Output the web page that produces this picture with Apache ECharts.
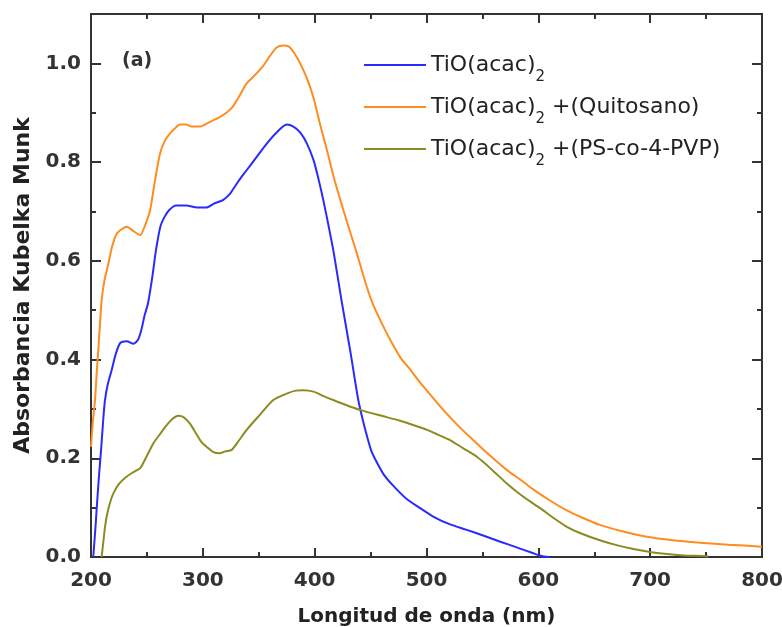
<!DOCTYPE html>
<html>
<head>
<meta charset="utf-8">
<script src="https://cdn.jsdelivr.net/npm/echarts@6/dist/echarts.min.js"></script>
<style>
html,body{margin:0;padding:0;background:#fff;}
#chart{width:782px;height:627px;}
</style>
</head>
<body>
<div id="chart"></div>
<script>
// ---- Data ----
var seriesNames = ['TiO(acac)2', 'TiO(acac)2 +(Quitosano)', 'TiO(acac)2 +(PS-co-4-PVP)'];
var xTicks = [200, 300, 400, 500, 600, 700, 800];
var yTicks = [0.0, 0.2, 0.4, 0.6, 0.8, 1.0];

var blueWl  = [202,204,205,207,209,211,212.5,215,218.5,222,226,232,238,242,245,248,251,255,258,262,266,270,276,285,295,303,310,318,324,327,333,339,348,357,366,375,381,387,393,399,403.5,408,412.5,417,424,432,439,443,447,451,456,461.5,470,482,495,506,520,536,550,566,580,595,600,605,610];
var blueAbs = [0.0,0.06,0.095,0.16,0.217,0.28,0.318,0.35,0.379,0.41,0.433,0.437,0.432,0.44,0.46,0.49,0.514,0.57,0.62,0.669,0.69,0.703,0.712,0.712,0.708,0.708,0.716,0.723,0.735,0.745,0.765,0.783,0.81,0.837,0.86,0.876,0.872,0.86,0.838,0.804,0.765,0.72,0.67,0.617,0.52,0.415,0.318,0.278,0.243,0.213,0.19,0.168,0.145,0.118,0.098,0.082,0.067,0.055,0.044,0.031,0.02,0.008,0.004,0.001,0.0];

var orangeWl  = [200,201.5,203.6,205,206.5,208,209.5,212,215.5,219,223,228,232,238,244,248,252.8,257,261.7,266,270.7,275,279.6,285,290,297.5,305,315,321,327,333,339,346,354,360,366,372,377,382,387,393,399,405,411,417,423,429,435,441,446.6,452,458,464.5,470,477,485,492,500,515,530,545,558,572,585,596,610,625,640,655,675,697,720,745,770,800];
var orangeAbs = [0.223,0.27,0.318,0.37,0.419,0.47,0.52,0.56,0.594,0.63,0.655,0.665,0.669,0.66,0.652,0.67,0.702,0.76,0.817,0.843,0.858,0.868,0.876,0.876,0.872,0.872,0.88,0.891,0.9,0.913,0.935,0.959,0.975,0.995,1.015,1.032,1.036,1.034,1.02,1.0,0.97,0.93,0.875,0.824,0.77,0.723,0.678,0.635,0.59,0.547,0.513,0.483,0.453,0.43,0.403,0.381,0.36,0.338,0.298,0.262,0.23,0.203,0.176,0.155,0.136,0.115,0.095,0.079,0.065,0.052,0.041,0.034,0.029,0.025,0.021];

var oliveWl  = [209.5,211,212.5,214,217,220,225,232,238,244,250,255.7,262,267.7,273,278,283,288.5,294,299,303.5,309,315,320,325.8,332,339,351,363,375,383,390,399,408,416.7,428,440.6,458,476.4,490,500,510,521,533,545,558,571.8,586,601.6,613,625.5,640,655,670,685,700,715,730,748,752];
var oliveAbs = [0.0,0.03,0.06,0.082,0.11,0.129,0.148,0.163,0.172,0.18,0.205,0.23,0.25,0.267,0.28,0.286,0.283,0.27,0.25,0.232,0.223,0.213,0.21,0.214,0.217,0.235,0.257,0.288,0.318,0.331,0.337,0.338,0.335,0.326,0.318,0.308,0.298,0.287,0.276,0.266,0.258,0.248,0.237,0.22,0.203,0.178,0.149,0.123,0.099,0.08,0.061,0.046,0.034,0.024,0.016,0.01,0.006,0.003,0.002,0.001];

function pairs(xs, ys) { return xs.map(function (x, i) { return [x, ys[i]]; }); }

var FONT = 'DejaVu Sans, Liberation Sans, Arial, sans-serif';
var AX = '#333';

function xAx(pos, showLabel) {
  return {
    type: 'value', position: pos, min: xTicks[0], max: xTicks[xTicks.length - 1], interval: 100,
    axisLine: { show: true, onZero: false, lineStyle: { color: AX, width: 2 } },
    axisTick: { show: true, inside: true, length: 9, lineStyle: { color: AX, width: 2 } },
    minorTick: { show: true, splitNumber: 2, length: 5, lineStyle: { color: AX, width: 2 } },
    splitLine: { show: false }, minorSplitLine: { show: false },
    axisLabel: { show: showLabel, margin: 14, fontFamily: FONT, fontSize: 20, fontWeight: 'bold', color: '#333' }
  };
}
function yAx(pos, interval, tickLen, showLabel) {
  return {
    type: 'value', position: pos, min: 0, max: 1.1, interval: interval,
    axisLine: { show: true, onZero: false, lineStyle: { color: AX, width: 2 } },
    axisTick: { show: true, inside: true, length: tickLen, lineStyle: { color: AX, width: 2 } },
    splitLine: { show: false },
    axisLabel: {
      show: showLabel, margin: 10, fontFamily: FONT, fontSize: 20, fontWeight: 'bold', color: '#333',
      showMaxLabel: false,
      formatter: function (v) { return yTicks.some(function (t) { return Math.abs(t - v) < 1e-6; }) ? v.toFixed(1) : ''; }
    }
  };
}

var xMain = xAx('bottom', true);
xMain.name = 'Longitud de onda (nm)';
xMain.nameLocation = 'middle';
xMain.nameGap = 50;
xMain.nameTextStyle = { fontFamily: FONT, fontSize: 20, fontWeight: 'bold', color: '#222' };

var yMain = yAx('left', 0.2, 10, true);
yMain.name = 'Absorbancia Kubelka Munk';
yMain.nameLocation = 'middle';
yMain.nameGap = 57;
yMain.nameTextStyle = { fontFamily: FONT, fontSize: 22, fontWeight: 'bold', color: '#222' };

var colors = ['#2a2aff', '#ff8c1f', '#8a8c22'];
var dataSets = [pairs(blueWl, blueAbs), pairs(orangeWl, orangeAbs), pairs(oliveWl, oliveAbs)];

var chart = echarts.init(document.getElementById('chart'), null, { renderer: 'canvas' });
chart.setOption({
  animation: false,
  backgroundColor: '#fff',
  grid: { left: 91, right: 20, top: 14, bottom: 70, containLabel: false, outerBoundsMode: 'none' },
  xAxis: [xMain, xAx('top', false)],
  yAxis: [yMain, yAx('left', 0.1, 5, false), yAx('right', 0.2, 10, false), yAx('right', 0.1, 5, false)],
  legend: {
    orient: 'vertical', left: 359, top: 40,
    itemWidth: 62, itemHeight: 14, itemGap: 2,
    icon: 'path://M0,6 L62,6 L62,8 L0,8 Z',
    data: seriesNames,
    formatter: function (name) {
      return name.replace('2', '{s|2}');
    },
    textStyle: {
      fontFamily: FONT, fontSize: 22, color: '#222', lineHeight: 40,
      rich: { s: { fontFamily: FONT, fontSize: 15, color: '#222', verticalAlign: 'bottom', lineHeight: 40 } }
    }
  },
  graphic: [{
    type: 'text', left: 122, top: 52,
    style: { text: '(a)', font: 'bold 19px ' + FONT, fill: '#333' }
  }],
  series: seriesNames.map(function (n, i) {
    return {
      name: n, type: 'line', data: dataSets[i], xAxisIndex: 0, yAxisIndex: 0,
      symbol: 'none', showSymbol: false, smooth: 0.25,
      lineStyle: { color: colors[i], width: 2 }, itemStyle: { color: colors[i] }
    };
  })
});
</script>
</body>
</html>
